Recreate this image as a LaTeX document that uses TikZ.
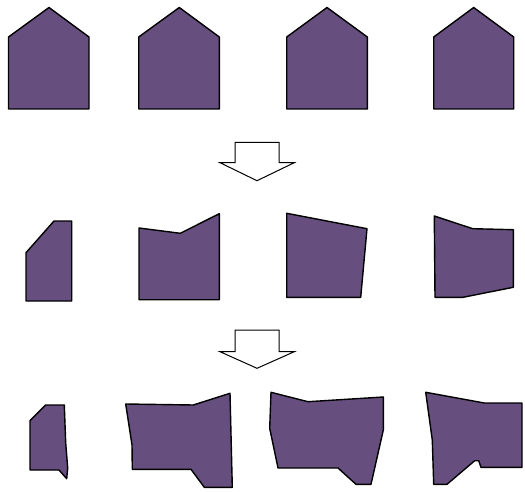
\documentclass[tikz,border=0pt]{standalone}
\definecolor{shapefill}{RGB}{102,79,126}
\begin{document}
\begin{tikzpicture}[x=1pt,y=-1pt,
  blob/.style={fill=shapefill,draw=black,line width=1.4pt,line join=round},
  downarrow/.style={fill=white,draw=black,line width=1pt,line join=miter}]
\useasboundingbox (0,0) rectangle (525,492);
% row 1: houses
\foreach \l/\a/\r in {8.5/49/89, 138.7/179.3/219.3, 286.7/327/367.3, 433.7/473.7/513.7}{
  \draw[blob] (\l,109) -- (\l,37) -- (\a,7.5) -- (\r,37) -- (\r,109) -- cycle;
}
% arrow 1
\draw[downarrow] (235,142.3) -- (279,142.3) -- (279,162.7) -- (294.3,162.7) -- (257,180.7)
  -- (220,162.7) -- (235,162.7) -- cycle;
% row 2
\draw[blob] (26,252.7) -- (54,221) -- (71.7,221) -- (71.7,301) -- (26,301) -- cycle;
\draw[blob] (139,228) -- (180.3,233.3) -- (219.3,213.7) -- (219.3,299.7) -- (139,299.7) -- cycle;
\draw[blob] (286.7,213.3) -- (367,228.7) -- (360.7,297.3) -- (286.7,297.3) -- cycle;
\draw[blob] (434.3,216) -- (472.7,228.7) -- (513.3,229.7) -- (513.3,287.3) -- (463,297.3)
  -- (435,297.3) -- cycle;
% arrow 2
\draw[downarrow] (235,330) -- (279,330) -- (279,351.7) -- (294.3,351.7) -- (257,368.3)
  -- (220,351.7) -- (235,351.7) -- cycle;
% row 3
\draw[blob] (30,420.7) -- (45.7,405) -- (64.3,405) -- (65.7,443) -- (67.7,468) -- (66.7,478.7)
  -- (59,470) -- (30,470) -- cycle;
\draw[blob] (125.7,404) -- (193.3,405) -- (230,393.3) -- (232.3,487.3) -- (204.3,487.3)
  -- (191,469.3) -- (132.3,469.3) -- (132,445) -- cycle;
\draw[blob] (271,392.3) -- (308,401.7) -- (383.3,397) -- (383.3,430) -- (371,484.3)
  -- (356,484.3) -- (338,468) -- (278,468) -- (269.7,428.3) -- cycle;
\draw[blob] (425.7,392.3) -- (484.3,403) -- (522,403) -- (522,467.3) -- (481,467.3)
  -- (478.7,460.7) -- (474.7,460.7) -- (447,484.3) -- (433.7,484.3) -- (432.3,440) -- cycle;
\end{tikzpicture}
\end{document}
